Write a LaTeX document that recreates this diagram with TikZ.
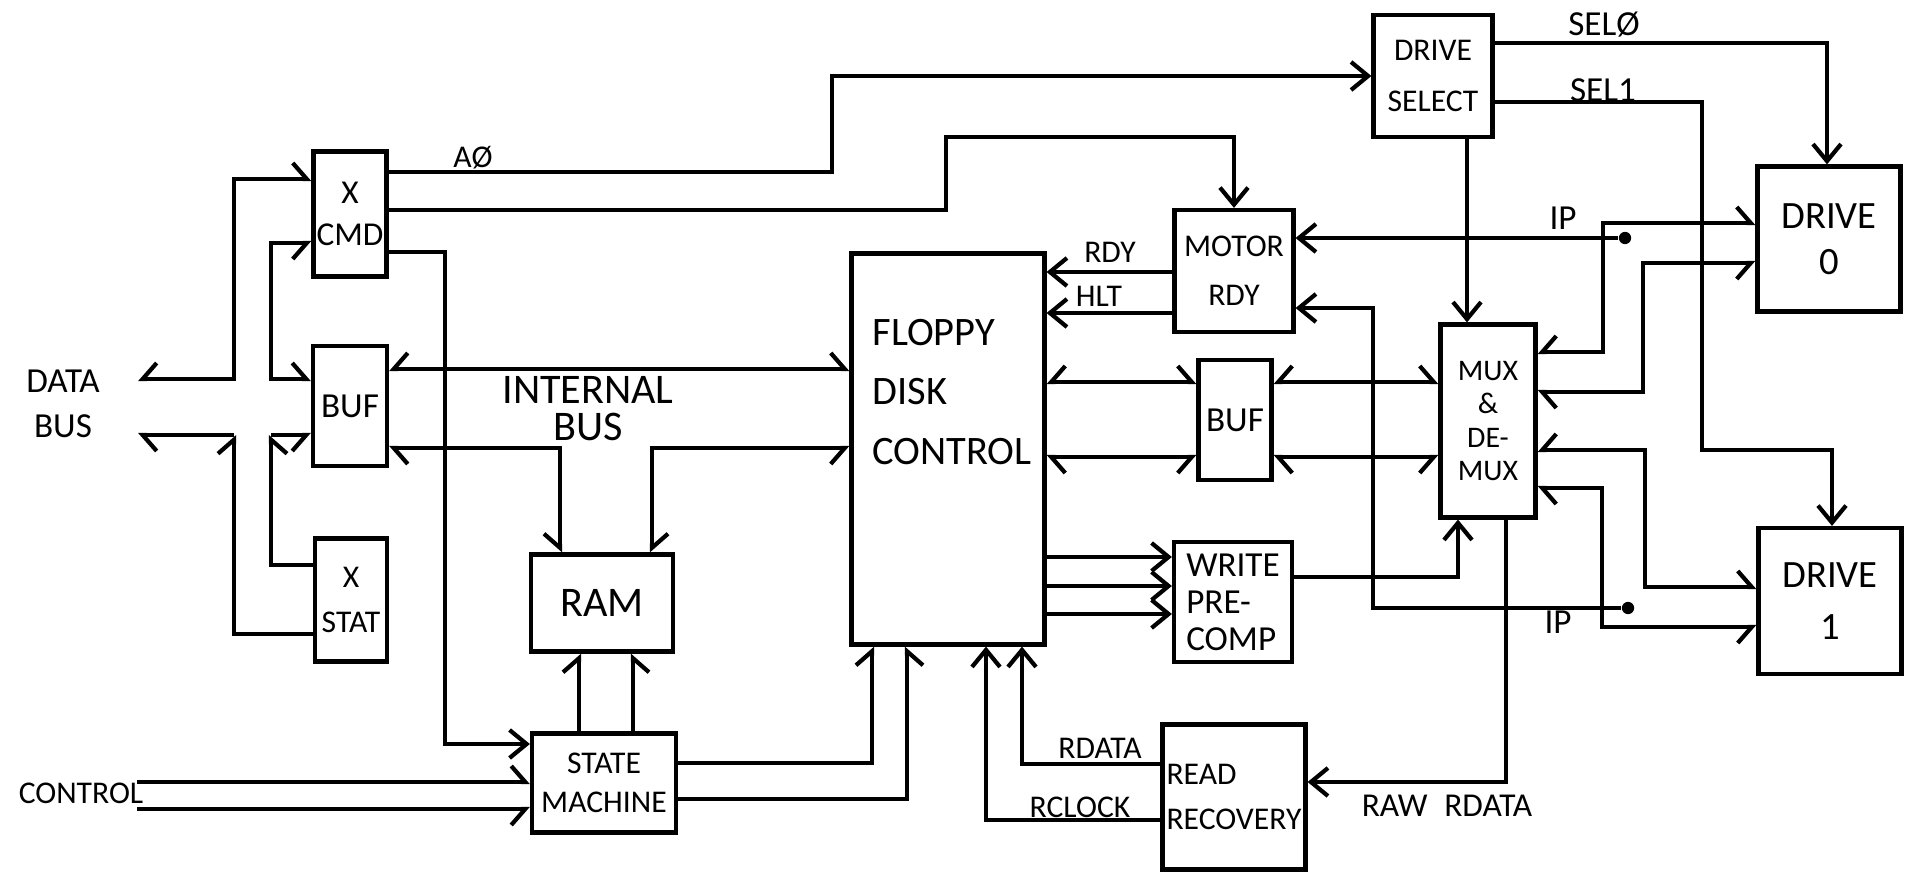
\documentclass[tikz,border=0pt]{standalone}
\usepackage{fontspec}
\setmainfont{Carlito}
\usetikzlibrary{arrows.meta}

\begin{document}
\begin{tikzpicture}[
    blk/.style={
        rectangle,
        draw=black,
        line width=1.2pt,
        align=center,
        inner sep=0pt
    },
    lbl/.style={
        inner sep=0pt,
        align=center,
        font=\fontsize{9}{11}\selectfont
    },
    wire/.style={line width=1.2pt},
    sig/.style={wire, -{Straight Barb[length=1.7mm, width=2.8mm]}},
    barbL/.tip={Straight Barb[left, length=1.4mm, width=3.2mm]},
    barbR/.tip={Straight Barb[right, length=1.4mm, width=3.2mm]},
    dot/.style={circle, fill=black, inner sep=0pt, minimum size=3.5pt}
]

\useasboundingbox (0,0) rectangle (19.13,-8.75);

\node[blk, minimum width=0.73cm, minimum height=1.25cm, font=\fontsize{9.5}{12}\selectfont] (cmd) at (3.50,-2.14) {X\\CMD};
\node[blk, minimum width=0.74cm, minimum height=1.20cm, font=\fontsize{10}{12}\selectfont] (bufa) at (3.50,-4.06) {BUF};
\node[blk, minimum width=0.72cm, minimum height=1.23cm, font=\fontsize{9}{13}\selectfont] (stat) at (3.51,-6.00) {X\\STAT};
\node[blk, minimum width=1.42cm, minimum height=0.97cm, font=\fontsize{12}{14}\selectfont] (ram) at (6.02,-6.03) {RAM};
\node[blk, minimum width=1.44cm, minimum height=0.99cm, font=\fontsize{9}{11}\selectfont] (sm) at (6.04,-7.83) {STATE\\MACHINE};
\node[blk, minimum width=1.93cm, minimum height=3.91cm] (fdc) at (9.48,-4.49) {};
\node[blk, minimum width=1.19cm, minimum height=1.22cm, font=\fontsize{9}{14}\selectfont] (motor) at (12.34,-2.71) {MOTOR\\RDY};
\node[blk, minimum width=0.73cm, minimum height=1.20cm, font=\fontsize{10}{12}\selectfont] (bufb) at (12.35,-4.20) {BUF};
\node[blk, minimum width=1.18cm, minimum height=1.20cm, align=left, font=\fontsize{10}{10.5}\selectfont] (wpc) at (12.33,-6.02) {WRITE\\PRE-\\COMP};
\node[blk, minimum width=1.43cm, minimum height=1.45cm, align=left, font=\fontsize{9}{13}\selectfont] (rr) at (12.34,-7.97) {READ\\RECOVERY};
\node[blk, minimum width=1.19cm, minimum height=1.22cm, font=\fontsize{9}{14.5}\selectfont] (dsel) at (14.33,-0.76) {DRIVE\\SELECT};
\node[blk, minimum width=0.95cm, minimum height=1.93cm, font=\fontsize{8.5}{9.5}\selectfont] (mux) at (14.88,-4.21) {MUX\\\&\\DE-\\MUX};
\node[blk, minimum width=1.43cm, minimum height=1.45cm, font=\fontsize{11}{13}\selectfont] (drva) at (18.29,-2.39) {DRIVE\\0};
\node[blk, minimum width=1.43cm, minimum height=1.46cm, font=\fontsize{11}{15}\selectfont] (drvb) at (18.30,-6.01) {DRIVE\\1};

\node[inner sep=0pt, align=left, font=\fontsize{11.5}{17}\selectfont] (fdctext) at (9.52,-3.92) {FLOPPY\\DISK\\CONTROL};

\node[lbl, font=\fontsize{10}{13}\selectfont] (databus) at (0.63,-4.04) {DATA\\BUS};
\node[lbl] (control) at (0.81,-7.93) {CONTROL};
\node[lbl, font=\fontsize{12}{10.5}\selectfont] (intbus) at (5.88,-4.09) {INTERNAL\\BUS};
\node[lbl] (azero) at (4.73,-1.58) {A\O};
\node[lbl] (rdy) at (11.10,-2.52) {RDY};
\node[lbl] (hlt) at (10.99,-2.96) {HLT};
\node[lbl, font=\fontsize{10}{12}\selectfont] (ipup) at (15.63,-2.18) {IP};
\node[lbl, font=\fontsize{10}{12}\selectfont] (iplow) at (15.58,-6.22) {IP};
\node[lbl, font=\fontsize{10}{12}\selectfont] (selzero) at (16.04,-0.25) {SEL\O};
\node[lbl, font=\fontsize{10}{12}\selectfont] (selone) at (16.03,-0.90) {SEL1};
\node[lbl] (rdata) at (11.00,-7.48) {RDATA};
\node[lbl] (rclock) at (10.80,-8.07) {RCLOCK};
\node[lbl, font=\fontsize{9.5}{12}\selectfont] (rawrdata) at (14.47,-8.06) {RAW\enspace RDATA};

\node[dot] (ipa) at (16.25,-2.38) {};
\node[dot] (ipb) at (16.28,-6.08) {};

\coordinate (dbu) at (1.38,-3.79);
\coordinate (dbl) at (1.38,-4.35);
\coordinate (jo) at (2.34,-4.35);
\coordinate (ji) at (2.71,-4.35);
\coordinate (ctu) at (1.37,-7.82);
\coordinate (ctl) at (1.37,-8.09);

\draw[wire, barbR-barbL] (dbu) -- (2.34,-3.79) |- (cmd.west |- 0,-1.79);
\draw[wire, barbL-] (dbl) -- (jo);
\draw[wire, -barbL] (stat.west |- 0,-6.34) -| (jo);
\draw[wire, barbR-barbL] (cmd.west |- 0,-2.43) -| (2.71,-3.79) -- (bufa.west |- 0,-3.79);
\draw[wire, -barbR] (ji) -- (bufa.west |- ji);
\draw[wire, -barbR] (stat.west |- 0,-5.65) -| (ji);

\draw[wire, barbR-barbL] (bufa.east |- 0,-3.69) -- (fdc.west |- 0,-3.69);
\draw[wire, barbL-barbR] (bufa.east |- 0,-4.48) -| (ram.north -| 5.60,0);
\draw[wire, barbL-barbR] (ram.north -| 6.52,0) |- (fdc.west |- 0,-4.48);

\draw[sig] (cmd.east |- 0,-1.72) -| (8.32,-0.76) -- (dsel.west |- 0,-0.76);
\draw[sig] (cmd.east |- 0,-2.10) -| (9.46,-1.37) -| (motor.north);
\draw[sig] (cmd.east |- 0,-2.52) -| (4.45,-7.44) -- (sm.west |- 0,-7.44);

\draw[wire, -barbL] (ctu) -- (sm.west |- ctu);
\draw[wire, -barbR] (ctl) -- (sm.west |- ctl);
\draw[wire, -barbL] (sm.north -| 5.79,0) -- (ram.south -| 5.79,0);
\draw[wire, -barbR] (sm.north -| 6.33,0) -- (ram.south -| 6.33,0);
\draw[wire, -barbL] (sm.east |- 0,-7.63) -| (fdc.south -| 8.72,0);
\draw[wire, -barbR] (sm.east |- 0,-7.99) -| (fdc.south -| 9.07,0);

\draw[sig] (rr.west |- 0,-7.64) -| (fdc.south -| 10.22,0);
\draw[sig] (rr.west |- 0,-8.20) -| (fdc.south -| 9.86,0);

\draw[sig] (motor.west |- 0,-2.72) -- (fdc.east |- 0,-2.72);
\draw[sig] (motor.west |- 0,-3.13) -- (fdc.east |- 0,-3.13);
\draw[sig] (ipa) -- (motor.east |- ipa);
\draw[sig] (ipb) -| (13.73,-3.08) -- (motor.east |- 0,-3.08);

\draw[wire, barbR-barbL] (fdc.east |- 0,-3.82) -- (bufb.west |- 0,-3.82);
\draw[wire, barbL-barbR] (fdc.east |- 0,-4.57) -- (bufb.west |- 0,-4.57);
\draw[wire, barbR-barbL] (bufb.east |- 0,-3.82) -- (mux.west |- 0,-3.82);
\draw[wire, barbL-barbR] (bufb.east |- 0,-4.57) -- (mux.west |- 0,-4.57);

\foreach \y in {-5.57,-5.86,-6.14}
    \draw[sig] (fdc.east |- 0,\y) -- (wpc.west |- 0,\y);
\draw[sig] (wpc.east |- 0,-5.77) -| (mux.south -| 14.58,0);

\draw[sig] (dsel.south -| 14.67,0) -- (mux.north -| 14.67,0);
\draw[sig] (dsel.east |- 0,-0.43) -| (drva.north -| 18.27,0);
\draw[sig] (dsel.east |- 0,-1.02) -| (17.02,-4.50) -| (drvb.north -| 18.32,0);

\draw[wire, barbR-barbL] (mux.east |- 0,-3.52) -| (16.03,-2.23) -- (drva.west |- 0,-2.23);
\draw[wire, barbL-barbR] (mux.east |- 0,-3.92) -| (16.43,-2.63) -- (drva.west |- 0,-2.63);
\draw[wire, barbR-barbL] (mux.east |- 0,-4.50) -| (16.45,-5.87) -- (drvb.west |- 0,-5.87);
\draw[wire, barbL-barbR] (mux.east |- 0,-4.88) -| (16.02,-6.27) -- (drvb.west |- 0,-6.27);
\draw[sig] (mux.south -| 15.06,0) |- (rr.east |- 0,-7.82);

\end{tikzpicture}
\end{document}
